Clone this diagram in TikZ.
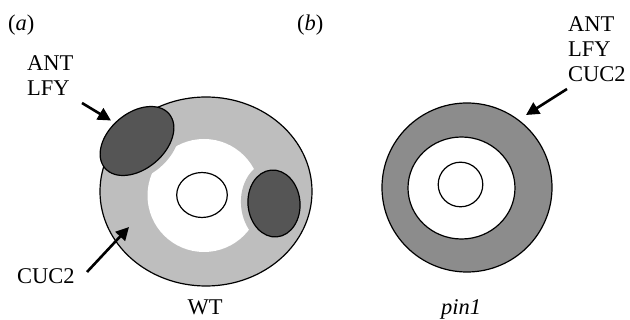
\documentclass[tikz,border=0pt]{standalone}
\usepackage{fontspec}
\setmainfont{Liberation Serif}
\usetikzlibrary{arrows.meta}
\definecolor{ringlight}{RGB}{190,190,190}
\definecolor{spotdark}{RGB}{85,85,85}
\definecolor{ringmid}{RGB}{140,140,140}
\tikzset{
  outline/.style={draw=black, line width=1.2pt},
  label/.style={inner sep=0pt, anchor=base west, font=\fontsize{22.5}{25}\selectfont},
  clabel/.style={inner sep=0pt, anchor=base, font=\fontsize{22.5}{25}\selectfont},
  pointer/.style={line width=2.6pt, -{Triangle[length=13pt,width=13pt]}}
}
\begin{document}
\begin{tikzpicture}[x=1pt,y=-1pt]
\useasboundingbox (0,0) rectangle (630,320);

% ---------- (a) wild type ----------
\fill[ringlight] (206,191.5) ellipse [x radius=106pt, y radius=94.5pt];
\fill[white] (204,195.5) circle [radius=56.5pt];
% grey margins around the two dark domains, kept inside the flower
\begin{scope}
  \clip (206,191.5) ellipse [x radius=105pt, y radius=93.5pt];
  \fill[ringlight, rotate around={40:(137,141)}] (137,141) ellipse [x radius=48pt, y radius=35pt];
  \fill[ringlight, rotate around={5:(274,203.5)}] (274,203.5) ellipse [x radius=33pt, y radius=42pt];
\end{scope}
\draw[outline] (206,191.5) ellipse [x radius=106pt, y radius=94.5pt];
\draw[outline, fill=spotdark, rotate around={40:(137,141)}] (137,141) ellipse [x radius=42pt, y radius=28pt];
\draw[outline, fill=spotdark, rotate around={5:(274,203.5)}] (274,203.5) ellipse [x radius=26pt, y radius=33.5pt];
\draw[outline, fill=white] (202,195) ellipse [x radius=25.3pt, y radius=22.5pt];

\node[label] (pa) at (8,31) {(\textit{a})};
\node[label] (antA) at (27,70.7) {ANT};
\node[label] (lfyA) at (27,96) {LFY};
\node[label] (cucA) at (17,284) {CUC2};
\node[clabel] (wt) at (205,315) {WT};

\coordinate (tA1) at (82,103);
\coordinate (hA1) at (111,120.5);
\coordinate (tA2) at (87,272);
\coordinate (hA2) at (129,227);
\draw[pointer] (tA1) -- (hA1);
\draw[pointer] (tA2) -- (hA2);

% ---------- (b) pin1 ----------
\draw[outline, fill=ringmid] (467,187.5) ellipse [x radius=85pt, y radius=84.5pt];
\draw[outline, fill=white] (461.5,188) ellipse [x radius=53.5pt, y radius=51pt];
\draw[outline, fill=white] (460.5,184.5) circle [radius=22.3pt];

\node[label] (pb) at (297,31) {(\textit{b})};
\node[label] (antB) at (568,32) {ANT};
\node[label] (lfyB) at (568,57) {LFY};
\node[label] (cucB) at (568,82) {CUC2};
\node[clabel] (pin) at (461,315) {\textit{pin1}};

\coordinate (tB) at (567,89);
\coordinate (hB) at (526,115);
\draw[pointer] (tB) -- (hB);
\end{tikzpicture}
\end{document}
